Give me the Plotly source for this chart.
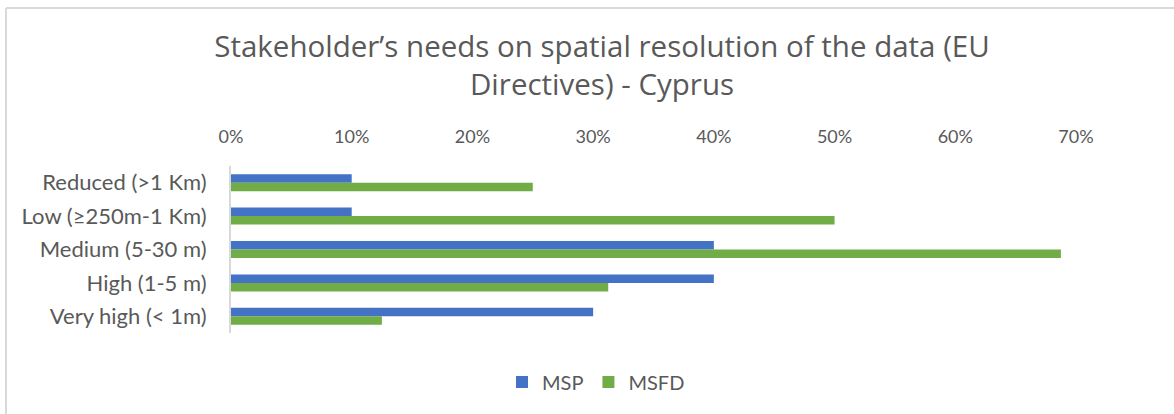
import plotly.graph_objects as go

categories = ["Reduced (>1 Km)", "Low (≥250m-1 Km)", "Medium (5-30 m)", "High (1-5 m)", "Very high (< 1m)"]
msp = [0.10, 0.10, 0.40, 0.40, 0.30]
msfd = [0.25, 0.50, 0.6875, 0.3125, 0.125]
x_ticks = [0, 0.1, 0.2, 0.3, 0.4, 0.5, 0.6, 0.7]
x_tick_labels = ["0%", "10%", "20%", "30%", "40%", "50%", "60%", "70%"]

W, H = 1174, 414
ML, MR, MT, MB = 231, 98, 166, 81
PW, PH = W - ML - MR, H - MT - MB

def px_x(p):
    return (p - ML) / PW

def px_y(p):
    return (H - MB - p) / PH

fig = go.Figure()
fig.add_trace(go.Bar(y=categories, x=msp, name="MSP", orientation="h",
                     marker=dict(color="#4472C4", line=dict(width=0))))
fig.add_trace(go.Bar(y=categories, x=msfd, name="MSFD", orientation="h",
                     marker=dict(color="#70AD47", line=dict(width=0))))

fig.update_layout(
    width=W, height=H,
    margin=dict(l=ML, r=MR, t=MT, b=MB),
    paper_bgcolor="white", plot_bgcolor="white",
    barmode="group", bargap=0.49, bargroupgap=0,
    title=dict(
        text="Stakeholder’s needs on spatial resolution of the data (EU<br>Directives) - Cyprus",
        x=602 / W, xanchor="center", xref="container",
        y=1 - 57 / H, yanchor="top", yref="container",
        font=dict(family="Open Sans", size=29.5, color="#595959"),
    ),
    xaxis=dict(
        side="top", range=[0, 0.7], tickvals=x_ticks, ticktext=x_tick_labels,
        showgrid=False, zeroline=False, showline=False, ticks="",
        tickfont=dict(family="Lato", size=18, color="#595959"),
        ticklabelstandoff=18,
    ),
    yaxis=dict(
        autorange="reversed", showgrid=False, zeroline=False,
        showline=True, linecolor="#d9d9d9", linewidth=2, ticks="",
        tickfont=dict(family="Lato", size=22, color="#595959"),
        ticklabelstandoff=18,
    ),
    legend=dict(
        orientation="h", x=596 / W, xanchor="center", xref="container",
        y=1 - 382 / H, yanchor="middle", yref="container",
        font=dict(family="Lato", size=20, color="#595959"),
        itemwidth=30, traceorder="normal", itemsizing="constant",
    ),
    showlegend=True,
    shapes=[
        dict(type="line", xref="paper", yref="paper",
             x0=px_x(6), x1=px_x(W + 5), y0=px_y(8), y1=px_y(8),
             line=dict(color="#d9d9d9", width=2)),
        dict(type="line", xref="paper", yref="paper",
             x0=px_x(6), x1=px_x(6), y0=px_y(8), y1=px_y(H + 5),
             line=dict(color="#d9d9d9", width=2)),
    ],
)

fig.write_html("out.html")
